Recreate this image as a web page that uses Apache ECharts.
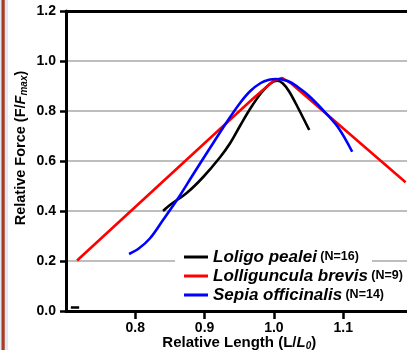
<!DOCTYPE html>
<html><head><meta charset="utf-8">
<script src="https://cdn.jsdelivr.net/npm/echarts@6/dist/echarts.min.js"></script>
<style>html,body{margin:0;padding:0;background:#fff}#c{width:407px;height:350px}</style>
</head><body><div id="c"></div>
<script>
// Data (x = L/L0, y = F/Fmax)
var loligoPealei = [[0.84,0.40],[0.85,0.424],[0.875,0.474],[0.898,0.536],[0.922,0.614],[0.937,0.672],[0.951,0.740],[0.966,0.810],[0.981,0.870],[0.995,0.910],[1.005,0.921],[1.013,0.910],[1.022,0.878],[1.034,0.817],[1.051,0.724]];
var lolligunculaBrevis = [[0.716,0.202],[0.97,0.85],[1.0,0.922],[1.012,0.932],[1.025,0.91],[1.19,0.515]];
var sepiaOfficinalis = [[0.791,0.228],[0.805,0.25],[0.821,0.29],[0.84,0.364],[0.862,0.452],[0.882,0.540],[0.905,0.640],[0.934,0.764],[0.952,0.835],[0.966,0.880],[0.981,0.912],[0.993,0.925],[1.003,0.928],[1.02,0.920],[1.034,0.897],[1.05,0.862],[1.068,0.812],[1.092,0.737],[1.113,0.637]];
var originMark = [[0.707,0.014],[0.719,0.014]];
var seriesNames = ['Loligo pealei','Lolliguncula brevis','Sepia officinalis'];
var seriesN = ['(N=16)','(N=9)','(N=14)'];
var xTicks = [0.8,0.9,1.0,1.1];

var FF = 'Liberation Sans, Arial, Helvetica, sans-serif';
var chart = echarts.init(document.getElementById('c'), null, {renderer:'canvas'});
function line(name, data, color, smooth){
  return {type:'line', name:name, data:data, symbol:'none', smooth:smooth, z:3,
    lineStyle:{color:color, width:2.6}, itemStyle:{color:color}, silent:true};
}
chart.setOption({
  animation:false,
  backgroundColor:'#fff',
  grid:{left:66, top:11, bottom:39, right:-5.5, outerBoundsMode:'none', containLabel:false, show:false},
  xAxis:[{type:'value', min:0.7, max:1.2, interval:0.1,
    axisLine:{lineStyle:{color:'#000', width:3}},
    axisTick:{show:true, length:8, lineStyle:{color:'#000', width:2.5}, customValues:xTicks},
    axisLabel:{customValues:xTicks, margin:10, color:'#000', fontFamily:FF, fontWeight:'bold', fontSize:14,
      formatter:function(v){return Number(v).toFixed(1);}},
    splitLine:{show:false},
    name:'{a|Relative Length (L/}{b|L}{c|0}{a|)}', nameLocation:'middle', nameGap:24, nameMoveOverlap:false,
    nameTextStyle:{rich:{
      a:{fontFamily:FF, fontWeight:'bold', fontSize:15, color:'#000', lineHeight:16},
      b:{fontFamily:FF, fontWeight:'bold', fontStyle:'italic', fontSize:15, color:'#000', lineHeight:16},
      c:{fontFamily:FF, fontWeight:'bold', fontStyle:'italic', fontSize:10, color:'#000', lineHeight:10, verticalAlign:'bottom'}
    }}
  },{type:'value', position:'top', min:0.7, max:1.2, interval:0.1,
    axisLine:{show:true, onZero:false, lineStyle:{color:'#000', width:3}},
    axisTick:{show:false}, axisLabel:{show:false}, splitLine:{show:false}}],
  yAxis:{type:'value', min:0, max:1.2, interval:0.2,
    axisLine:{lineStyle:{color:'#000', width:3}},
    axisTick:{show:true, length:6, lineStyle:{color:'#000', width:2.5}},
    axisLabel:{margin:10, color:'#000', fontFamily:FF, fontWeight:'bold', fontSize:14,
      formatter:function(v){return Number(v).toFixed(1);}},
    splitLine:{show:true, lineStyle:{color:'#a8a8a8', width:1.5}},
    name:'{a|Relative Force (F/}{b|F}{c|max}{a|)}', nameLocation:'middle', nameGap:37, nameMoveOverlap:false,
    nameTextStyle:{padding:[0,0,0,26], rich:{
      a:{fontFamily:FF, fontWeight:'bold', fontSize:14.5, color:'#000', lineHeight:16},
      b:{fontFamily:FF, fontWeight:'bold', fontStyle:'italic', fontSize:14.5, color:'#000', lineHeight:16},
      c:{fontFamily:FF, fontWeight:'bold', fontStyle:'italic', fontSize:10, color:'#000', lineHeight:10, verticalAlign:'bottom'}
    }}
  },
  legend:{data:seriesNames, orient:'vertical', left:184, top:248.5, padding:0, itemGap:2,
    itemWidth:24, itemHeight:3, icon:'rect', selectedMode:false,
    formatter:function(name){var i=seriesNames.indexOf(name); return '{a|'+name+'} {b|'+seriesN[i]+'}';},
    textStyle:{rich:{
      a:{fontFamily:FF, fontWeight:'bold', fontStyle:'italic', fontSize:17, color:'#000', lineHeight:17},
      b:{fontFamily:FF, fontWeight:'bold', fontSize:12.5, color:'#000', lineHeight:17}
    }}
  },
  graphic:{elements:[
    {type:'rect', shape:{x:175, y:251, width:197, height:18}, style:{fill:'#fff'}, z:1, silent:true},
    {type:'rect', shape:{x:0, y:0, width:8, height:350}, style:{fill:'#dfe8f6'}, z:10, silent:true},
    {type:'rect', shape:{x:1.5, y:0, width:3.2, height:350}, style:{fill:'#ab3a1e'}, z:11, silent:true}
  ]},
  series:[
    line('Loligo pealei', loligoPealei, '#000000', 0.35),
    line('Lolliguncula brevis', lolligunculaBrevis, '#ff0000', false),
    line('Sepia officinalis', sepiaOfficinalis, '#0000ff', 0.35),
    {type:'line', name:'mark', data:originMark, symbol:'none', silent:true, z:3, lineStyle:{color:'#000', width:2.5}}
  ]
});
</script></body></html>
